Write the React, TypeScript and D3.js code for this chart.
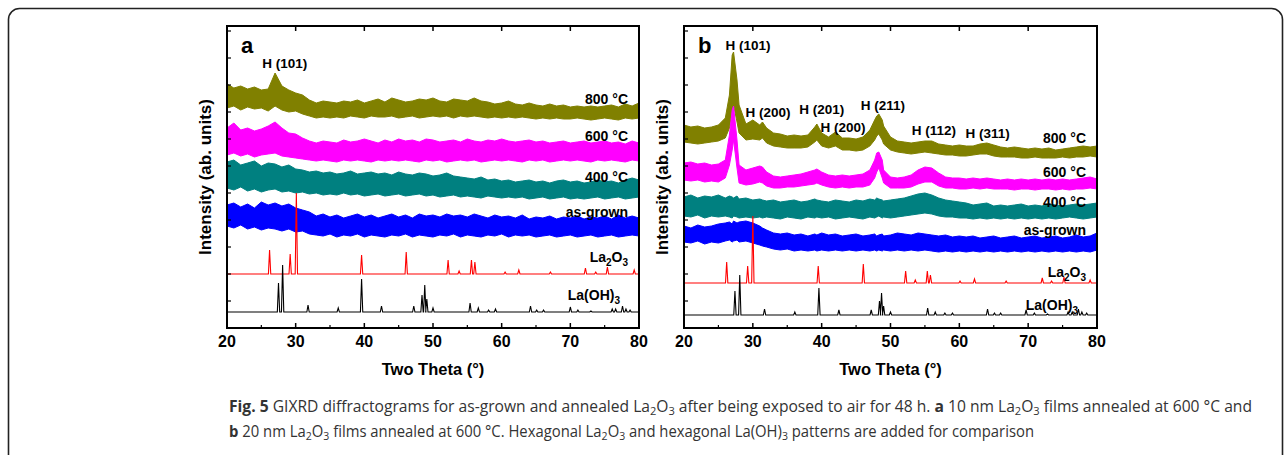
import React from "react";
import * as d3 from "d3";

// ---------- DATA ----------
const xTicks = [20, 30, 40, 50, 60, 70, 80];
const xMinorTicks = [25, 35, 45, 55, 65, 75];
const yTickValues = [27, 54, 81, 108, 135, 162, 189, 216, 243, 270, 297];

// panel a sampling (two-theta, degrees)
const thetaA = d3.range(20, 81, 1);
const a800Hi = [244,240,242,239,241,238,239,255,242,238,235, 233,228,225,227,226,225,227,226,228,225, 227,229,226,230,228,226,227,229,228,230, 227,226,229,228,227,230,227,226,224,225, 227,224,223,225,223,222,224,222,223,221, 222,221,222,221,222,223,221,224,222,225];
const a800Lo = [220,222,218,221,219,220,217,222,218,216,217, 214,212,210,211,210,211,210,212,211,210, 212,211,211,212,210,211,212,210,211,212, 211,212,210,212,211,212,211,210,211,210, 211,210,211,210,209,210,209,210,209,209, 210,209,208,209,210,209,208,210,209,210];
const a600Hi = [200,205,198,200,197,199,202,206,200,195,194, 190,187,185,187,186,185,188,186,187,189, 187,185,188,186,189,187,188,186,189,188, 186,187,188,186,189,187,186,188,187,189, 187,186,187,188,186,187,185,186,187,185, 186,187,185,186,187,185,186,184,187,185];
const a600Lo = [173,175,172,174,171,173,174,175,172,171,170, 169,168,167,168,167,166,168,167,168,167, 166,168,167,168,167,168,167,166,168,167, 168,166,167,168,167,168,166,167,168,167, 168,167,166,168,167,168,166,167,168,167, 168,167,166,168,167,168,167,166,168,167];
const a400Hi = [166,168,163,165,167,162,165,164,161,163,159, 158,156,157,155,156,154,155,157,154,155, 156,154,155,153,156,154,153,155,154,152, 153,155,152,151,150,149,151,148,149,147, 148,146,147,148,146,147,145,147,148,146, 147,145,146,148,146,147,145,148,150,148];
const a400Lo = [140,138,141,137,139,136,138,139,136,137,135, 136,134,135,133,134,133,135,133,134,132, 133,134,132,133,134,132,133,134,132,133, 131,132,133,131,132,131,130,132,131,130, 131,130,131,129,130,131,129,130,131,129, 130,129,130,131,129,130,131,129,130,131];
const aAsHi = [123,125,121,124,120,126,123,125,122,124,120, 118,116,112,114,111,113,110,112,114,111, 113,110,112,114,111,113,110,114,112,113, 111,114,112,113,111,114,112,110,113,111, 112,110,113,109,111,110,112,109,111,110, 112,109,111,110,112,109,113,110,112,110];
const aAsLo = [102,100,103,99,101,98,100,99,97,99,96, 97,94,93,92,94,91,93,92,94,91, 93,92,91,93,92,94,91,93,92,91, 93,92,94,91,93,92,91,93,92,94, 91,93,92,93,91,92,93,91,92,93, 91,92,93,91,92,93,91,92,93,92];

// panel b sampling
const thetaB = [20,21,22,23,24,25,26,26.6,27,27.2,27.7,28,29,30,31,31.4,32,33,34,35,36,37,38,39,39.3,40,41,42,43,44,45,46,47,47.7,48,48.3,48.8,49,50,51,52,53,54,55,56,57,58,59,60,61,62,63,64,65,66,67,68,69,70,71,72,73,74,75,76,77,78,79,80];
const b800Hi = [203,201,202,200,201,203,210,233,273,276,248,223,204,208,203,206,200,195,194,192,193,192,193,201,204,195,191,196,190,190,189,191,198,208,212,214,208,202,191, 187,186,185,186,187,187,184,183,182,183,182,182,184,185,183,181,180,181,180,179,180,179,180,178,179,180,181,182,181,182];
const b800Lo = [186,185,184,185,186,187,190,200,218,223,206,195,188,189,188,190,185,182,181,180,180,180,181,186,188,182,180,182,178,178,177,178,182,188,192,194,188,184,178, 176,175,174,175,176,175,174,173,173,172,172,173,174,174,172,171,171,171,170,170,171,170,170,170,171,170,171,171,172,171];
const b600Hi = [165,166,164,165,163,164,168,193,218,222,188,163,158,160,162,161,156,152,151,152,153,154,156,158,159,156,153,152,153,152,153,154,158,168,175,176,168,158,151, 150,151,153,158,161,160,155,151,150,150,149,150,149,150,149,148,149,148,149,148,149,148,149,148,149,148,149,150,151,149];
const b600Lo = [148,147,148,146,147,146,150,163,178,188,160,145,143,144,146,145,142,140,140,141,141,142,143,144,145,143,141,140,141,140,141,141,143,150,156,160,150,145,140, 140,140,141,144,146,146,142,140,140,139,139,140,139,140,139,139,139,138,139,139,138,139,139,138,139,138,139,139,140,139];
const b400Hi = [131,133,130,132,131,133,130,132,131,130,132,129,130,128,129,128,127,128,126,127,128,126,127,129,128,127,126,128,127,126,128,127,129,128,130,129,128,127,128, 129,130,132,134,135,133,130,128,127,126,125,123,124,125,122,123,122,123,124,122,123,122,124,123,122,123,124,123,124,125];
const b400Lo = [112,111,113,110,112,111,112,111,110,112,111,110,111,110,111,110,111,110,109,111,110,109,111,110,111,110,111,109,110,111,110,109,111,110,111,112,110,111,110, 111,112,113,114,115,114,112,111,111,110,110,109,110,109,110,109,110,109,110,109,110,109,110,109,110,111,110,109,110,111];
const bAsHi = [102,100,103,101,102,104,105,106,104,107,105,106,107,105,102,100,98,95,94,95,93,94,92,94,93,95,93,94,92,93,94,92,93,94,92,93,94,92,93, 95,94,93,95,94,93,92,93,91,92,91,92,90,91,92,90,91,92,90,91,92,90,91,92,90,91,93,91,92,95];
const bAsLo = [86,85,87,84,86,85,87,88,86,87,88,86,87,85,83,82,81,79,78,79,77,78,77,78,77,78,77,78,77,78,77,78,77,78,77,78,77,78,77, 78,77,78,77,78,77,76,77,76,77,76,77,76,77,76,77,76,77,76,77,76,77,76,77,76,77,76,77,76,78];

// reference patterns: [two-theta, peak height above pattern baseline]
const aLa2O3Base = 54;
const aLa2O3Peaks = [[26.2,24],[29.2,20],[30.1,81],[39.6,19],[46.1,22],[52.2,14],[53.8,3],[55.6,14],[56.1,12],[60.5,2],[62.5,4],[67.1,2],[72.2,6],[73.7,2],[75.4,7],[79.3,4]];
const aLaOH3Base = 16;
const aLaOH3Peaks = [[27.5,29],[28.1,47],[31.8,7],[36.2,4],[39.6,33],[42.5,6],[47.2,6],[48.4,17],[48.8,27],[49.1,13],[50.0,4],[55.4,9],[56.6,4],[58.1,2],[59.1,3],[64.2,6],[65.1,2],[66.1,2],[70.0,5],[71.1,2],[73.0,1],[76.1,3],[76.6,3],[77.6,6],[78.1,3],[78.7,2]];
const bLa2O3Base = 45;
const bLa2O3Peaks = [[26.2,21],[29.25,17],[30.0,67],[39.5,17],[46.05,19],[52.2,12],[53.6,3],[55.35,12],[55.8,8],[60.1,2],[62.2,4],[66.8,2],[72.05,5],[73.4,2],[75.2,6],[79.0,3]];
const bLaOH3Base = 13;
const bLaOH3Peaks = [[27.4,24],[28.1,40],[31.7,6],[36.1,3],[39.6,27],[42.5,5],[47.2,5],[48.4,14],[48.7,22],[49.0,9],[50.0,3],[55.4,7],[56.5,3],[57.9,2],[59.0,2],[64.1,6],[65.1,2],[66.0,2],[69.7,5],[70.9,2],[72.8,1],[75.8,3],[76.4,3],[77.3,6],[77.8,3],[78.5,2]];

const seriesNames = ["800 °C", "600 °C", "400 °C", "as-grown"];
const seriesColors = ["#808000", "#ff00ff", "#008080", "#0000ff"];

// peak annotations [two-theta of label centre, intensity of label centre, text]
const aPeakLabels = [[28.4, 265, "H (101)"]];
const bPeakLabels = [[29.3, 283, "H (101)"], [32.2, 216, "H (200)"], [40.0, 219, "H (201)"], [43.1, 201, "H (200)"], [48.9, 223, "H (211)"], [56.3, 198, "H (112)"], [64.1, 195, "H (311)"]];

// ---------- CHART ----------
const TOP = 26, BOTTOM = 328;
const y = d3.scaleLinear().domain([0, 302]).range([BOTTOM, TOP]);

function Panel({ left, right, letter, theta, bands, refs, seriesLabelY, peakLabels, labelRight, ohRight }: any) {
  const x = d3.scaleLinear().domain([20, 80]).range([left, right]);
  const area = d3.area<any>().x((d) => x(d.t)).y0((d) => y(d.lo)).y1((d) => y(d.hi));
  const line = d3.line<any>().x((d) => x(d[0])).y((d) => y(d[1]));
  const stickPath = (base: number, peaks: number[][]) => {
    const pts: number[][] = [[20, base]];
    peaks.forEach(([t, h]) => {
      pts.push([t - 0.17, base], [t, base + h], [t + 0.17, base]);
    });
    pts.push([80, base]);
    return line(pts) as string;
  };
  const cx = (left + right) / 2;
  const bold = { fontFamily: "'Liberation Sans', Arial, sans-serif", fontWeight: 700 };
  return (
    <g>
      {bands.map((b: any, i: number) => (
        <path key={i}
          d={area(theta.map((t: number, k: number) => ({ t, hi: b.hi[k], lo: b.lo[k] }))) as string}
          fill={b.color} stroke={b.color} strokeWidth={1} strokeLinejoin="bevel" />
      ))}
      {refs.map((r: any, i: number) => (
        <path key={i} d={stickPath(r.base, r.peaks)} fill="none" stroke={r.color} strokeWidth={1.1} />
      ))}
      <rect x={left} y={TOP} width={right - left} height={BOTTOM - TOP} fill="none" stroke="#000" strokeWidth={2} />
      {xTicks.map((t) => (
        <g key={t}>
          <line x1={x(t)} x2={x(t)} y1={BOTTOM} y2={BOTTOM - 5} stroke="#000" strokeWidth={1.5} />
          <line x1={x(t)} x2={x(t)} y1={TOP} y2={TOP + 5} stroke="#000" strokeWidth={1.5} />
          <text x={x(t)} y={347} textAnchor="middle" fontSize={16} style={bold}>{t}</text>
        </g>
      ))}
      {xMinorTicks.map((t) => (
        <line key={t} x1={x(t)} x2={x(t)} y1={BOTTOM} y2={BOTTOM - 3} stroke="#000" strokeWidth={1.2} />
      ))}
      {yTickValues.map((v) => (
        <line key={v} x1={left} x2={left + 4} y1={y(v)} y2={y(v)} stroke="#000" strokeWidth={1.2} />
      ))}
      <text x={cx} y={375} textAnchor="middle" fontSize={16.5} style={bold}>Two Theta (°)</text>
      <text transform={`translate(${left - 16},${(TOP + BOTTOM) / 2}) rotate(-90)`} textAnchor="middle" fontSize={17} style={bold}>Intensity (ab. units)</text>
      <text x={left + 14} y={53} fontSize={22} style={bold}>{letter}</text>
      {peakLabels.map((p: any, i: number) => (
        <text key={i} x={x(p[0])} y={y(p[1]) + 5} textAnchor="middle" fontSize={13.5} style={bold}>{p[2]}</text>
      ))}
      {seriesNames.map((n, i) => (
        <text key={n} x={labelRight} y={seriesLabelY[i]} textAnchor="end" fontSize={14} style={bold}>{n}</text>
      ))}
      <text x={labelRight} y={seriesLabelY[4]} textAnchor="end" fontSize={14} style={bold}>
        La<tspan dy={4} fontSize={10}>2</tspan><tspan dy={-4}>O</tspan><tspan dy={4} fontSize={10}>3</tspan>
      </text>
      <text x={ohRight} y={seriesLabelY[5]} textAnchor="end" fontSize={14} style={bold}>
        La(OH)<tspan dy={4} fontSize={10}>3</tspan>
      </text>
    </g>
  );
}

export default function App() {
  const capFont = { fontFamily: "'Open Sans', 'Noto Sans', sans-serif" };
  const bandsA = [
    { hi: a800Hi, lo: a800Lo, color: seriesColors[0] },
    { hi: a600Hi, lo: a600Lo, color: seriesColors[1] },
    { hi: a400Hi, lo: a400Lo, color: seriesColors[2] },
    { hi: aAsHi, lo: aAsLo, color: seriesColors[3] },
  ];
  const bandsB = [
    { hi: b800Hi, lo: b800Lo, color: seriesColors[0] },
    { hi: b600Hi, lo: b600Lo, color: seriesColors[1] },
    { hi: b400Hi, lo: b400Lo, color: seriesColors[2] },
    { hi: bAsHi, lo: bAsLo, color: seriesColors[3] },
  ];
  const refsA = [
    { base: aLa2O3Base, peaks: aLa2O3Peaks, color: "#ff0000" },
    { base: aLaOH3Base, peaks: aLaOH3Peaks, color: "#000000" },
  ];
  const refsB = [
    { base: bLa2O3Base, peaks: bLa2O3Peaks, color: "#ff0000" },
    { base: bLaOH3Base, peaks: bLaOH3Peaks, color: "#000000" },
  ];
  return (
    <svg width={1287} height={455} style={{ position: "absolute", left: 0, top: 0, background: "#fff" }}>
      <rect x={8.5} y={8.5} width={1274} height={470} rx={11} fill="#fff" stroke="#222" strokeWidth={1.6} />
      <Panel left={227} right={639} letter="a" theta={thetaA} bands={bandsA} refs={refsA}
        seriesLabelY={[104, 141, 182, 217, 262, 300]} peakLabels={aPeakLabels} labelRight={628} ohRight={620} />
      <Panel left={684} right={1097} letter="b" theta={thetaB} bands={bandsB} refs={refsB}
        seriesLabelY={[143, 177, 207, 235, 277, 310]} peakLabels={bPeakLabels} labelRight={1086} ohRight={1078} />
      <text x={229} y={412} fontSize={15.5} fill="#333" style={capFont} textLength={1023} lengthAdjust="spacingAndGlyphs">
        <tspan fontWeight={700}>Fig. 5</tspan> GIXRD diffractograms for as-grown and annealed La<tspan dy={3} fontSize={11}>2</tspan><tspan dy={-3}>O</tspan><tspan dy={3} fontSize={11}>3</tspan><tspan dy={-3}> after being exposed to air for 48 h. </tspan><tspan fontWeight={700}>a</tspan> 10 nm La<tspan dy={3} fontSize={11}>2</tspan><tspan dy={-3}>O</tspan><tspan dy={3} fontSize={11}>3</tspan><tspan dy={-3}> films annealed at 600 °C and</tspan>
      </text>
      <text x={229} y={437} fontSize={15.5} fill="#333" style={capFont} textLength={805} lengthAdjust="spacingAndGlyphs">
        <tspan fontWeight={700}>b</tspan> 20 nm La<tspan dy={3} fontSize={11}>2</tspan><tspan dy={-3}>O</tspan><tspan dy={3} fontSize={11}>3</tspan><tspan dy={-3}> films annealed at 600 °C. Hexagonal La</tspan><tspan dy={3} fontSize={11}>2</tspan><tspan dy={-3}>O</tspan><tspan dy={3} fontSize={11}>3</tspan><tspan dy={-3}> and hexagonal La(OH)</tspan><tspan dy={3} fontSize={11}>3</tspan><tspan dy={-3}> patterns are added for comparison</tspan>
      </text>
    </svg>
  );
}
